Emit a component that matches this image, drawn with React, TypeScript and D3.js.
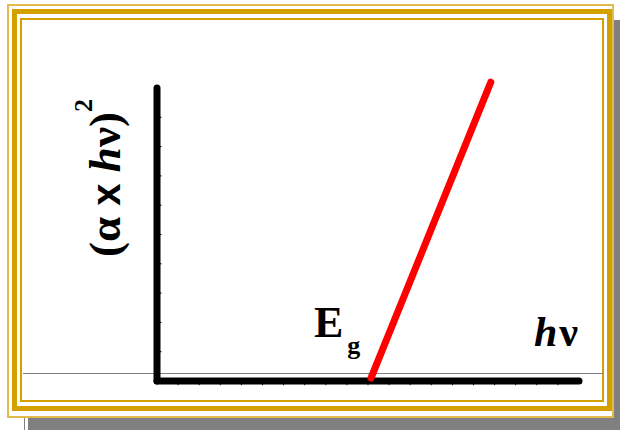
import React from "react";
import * as d3 from "d3";

// Photon energy axis (arbitrary units) and (αhν)² axis
const xDomain = [0, 10];
const yDomain = [0, 10];
const xTickValues = d3.range(0.5, 10, 0.5);
const yTickValues = d3.range(1, 10, 1);

// Linear Tauc fit: starts at the band gap on the energy axis
const bandGap = 5.07;
const fitHv = [bandGap, 7.91];
const fitY = [0.1, 10.2];

const W = 620;
const H = 430;

const GOLD = "#d4a000";
const GOLD_LIGHT = "#e3bb4c";
const SHADOW = "#808080";

export default function App() {
  const x = d3.scaleLinear().domain(xDomain).range([157, 579]);
  const y = d3.scaleLinear().domain(yDomain).range([381, 88]);

  const fitPath = d3.line<number>()
    .x((d) => x(fitHv[d]))
    .y((d) => y(fitY[d]))([0, 1]);

  const serif = "'Liberation Serif', 'Times New Roman', serif";
  const sans = "'Liberation Sans', Arial, sans-serif";

  return (
    <div style={{ position: "fixed", left: 0, top: 0 }}>
      <svg width={W} height={H} style={{ display: "block" }}>
        <rect x={0} y={0} width={W} height={H} fill="#fff" />
        {/* drop shadow of the frame */}
        <rect x={28} y={20} width={W - 28} height={H - 20} fill={SHADOW} />
        <line x1={24.5} y1={417} x2={24.5} y2={H} stroke={SHADOW} strokeWidth={1} />
        <rect x={0} y={0} width={613} height={418} fill="#fff" />

        {/* triple gold border */}
        <rect x={8} y={5} width={605} height={412} fill="none" stroke={GOLD_LIGHT} strokeWidth={2} />
        <rect x={14.5} y={11.5} width={595} height={397} fill="none" stroke={GOLD} strokeWidth={5} />
        <rect x={21} y={19} width={582} height={382} fill="none" stroke={GOLD} strokeWidth={2} />

        {/* thin grey rule across the frame */}
        <line x1={23} y1={373.5} x2={603} y2={373.5} stroke="#808080" strokeWidth={1} />

        {/* axes */}
        <g stroke="#000" strokeLinecap="round">
          <line x1={x(0)} y1={y(0)} x2={x(0)} y2={y(yDomain[1])} strokeWidth={7} />
          <line x1={x(0)} y1={y(0)} x2={x(xDomain[1])} y2={y(0)} strokeWidth={7} />
        </g>
        <g stroke="#000" strokeWidth={1}>
          {yTickValues.map((v) => (
            <line key={"y" + v} x1={x(0) + 3} x2={x(0) + 4.5} y1={y(v)} y2={y(v)} />
          ))}
          {xTickValues.map((v) => (
            <line key={"x" + v} x1={x(v)} x2={x(v)} y1={y(0) + 3} y2={y(0) + 4.2} />
          ))}
        </g>

        {/* Tauc fit line */}
        <path d={fitPath || ""} stroke="#ff0000" strokeWidth={7} strokeLinecap="round" fill="none" />

        {/* y-axis label */}
        <text
          transform="translate(120,178) rotate(-90)"
          textAnchor="middle"
          fontFamily={serif}
          fontWeight="bold"
          fontSize={45}
          fill="#000"
        >
          <tspan>(α </tspan>
          <tspan fontFamily={sans} fontSize={40}>x</tspan>
          <tspan> </tspan>
          <tspan fontStyle="italic">h</tspan>
          <tspan>ν)</tspan>
          <tspan fontSize={26} dy={-28}>2</tspan>
        </text>

        {/* band gap label */}
        <text x={314} y={337} fontFamily={serif} fontWeight="bold" fontSize={44} fill="#000">
          E
          <tspan fontSize={26} dx={4} dy={17}>g</tspan>
        </text>

        {/* photon energy label */}
        <text x={534} y={346} fontFamily={serif} fontWeight="bold" fontSize={42} fill="#000">
          <tspan fontStyle="italic">h</tspan>
          <tspan dx={2}>ν</tspan>
        </text>
      </svg>
    </div>
  );
}
